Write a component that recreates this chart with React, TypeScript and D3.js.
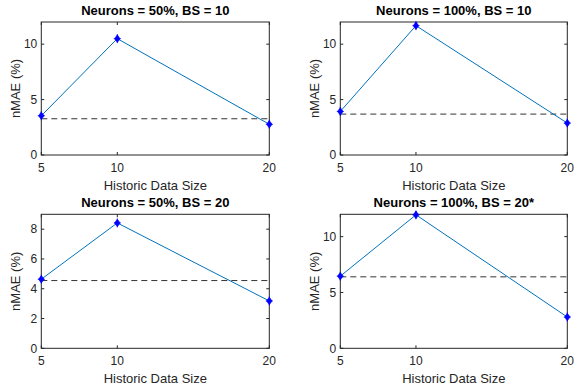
import React, { useRef, useEffect } from "react";
import * as d3 from "d3";

// data
const historicSizes = [5, 10, 20];
const titles = [
  "Neurons = 50%, BS = 10",
  "Neurons = 100%, BS = 10",
  "Neurons = 50%, BS = 20",
  "Neurons = 100%, BS = 20*",
];
const nmae50bs10 = [3.54, 10.5, 2.77];
const nmae100bs10 = [3.93, 11.67, 2.88];
const nmae50bs20 = [4.64, 8.42, 3.18];
const nmae100bs20 = [6.46, 11.95, 2.8];
const baselines = [3.27, 3.69, 4.55, 6.4];
const yMaxes = [12, 12, 9, 12];
const yTickSets = [
  [0, 5, 10],
  [0, 5, 10],
  [0, 2, 4, 6, 8],
  [0, 5, 10],
];
const xTicks = [5, 10, 20];

const W = 574;
const H = 392;
const FONT = "'Liberation Sans', Arial, Helvetica, sans-serif";

function App() {
  const svgRef = useRef<SVGSVGElement>(null);
  useEffect(() => {
    var svg = d3.select(svgRef.current);
    svg.selectChildren().remove();
    svg.append("rect").attr("width", W).attr("height", H).attr("fill", "white");

    const series = [nmae50bs10, nmae100bs10, nmae50bs20, nmae100bs20];
    const lefts = [41.3, 340.3];
    const rights = [269.3, 567.3];
    const tops = [22, 214.3];
    const bottoms = [155, 348.3];

    series.forEach((vals, k) => {
      const col = k % 2;
      const row = Math.floor(k / 2);
      const x0 = lefts[col], x1 = rights[col];
      const y0 = tops[row], y1 = bottoms[row];
      const x = d3.scaleLinear().domain([5, 20]).range([x0, x1]);
      const y = d3.scaleLinear().domain([0, yMaxes[k]]).range([y1, y0]);
      const g = svg.append("g");

      // box
      g.append("rect")
        .attr("x", x0).attr("y", y0)
        .attr("width", x1 - x0).attr("height", y1 - y0)
        .attr("fill", "white").attr("stroke", "#262626").attr("stroke-width", 1);

      // ticks (inward, mirrored)
      const tl = 3;
      yTickSets[k].forEach((t) => {
        const yy = y(t);
        g.append("line").attr("x1", x0).attr("x2", x0 + tl).attr("y1", yy).attr("y2", yy).attr("stroke", "#262626");
        g.append("line").attr("x1", x1).attr("x2", x1 - tl).attr("y1", yy).attr("y2", yy).attr("stroke", "#262626");
        g.append("text")
          .attr("x", x0 - 4).attr("y", yy + 4.3)
          .attr("text-anchor", "end")
          .attr("font-family", FONT).attr("font-size", 12)
          .attr("fill", "#262626")
          .text(t);
      });
      xTicks.forEach((t) => {
        const xx = x(t);
        g.append("line").attr("x1", xx).attr("x2", xx).attr("y1", y1).attr("y2", y1 - tl).attr("stroke", "#262626");
        g.append("line").attr("x1", xx).attr("x2", xx).attr("y1", y0).attr("y2", y0 + tl).attr("stroke", "#262626");
        g.append("text")
          .attr("x", xx).attr("y", y1 + 17)
          .attr("text-anchor", "middle")
          .attr("font-family", FONT).attr("font-size", 12)
          .attr("fill", "#262626")
          .text(t);
      });

      // baseline dashed
      g.append("line")
        .attr("x1", x(5)).attr("x2", x(20))
        .attr("y1", y(baselines[k])).attr("y2", y(baselines[k]))
        .attr("stroke", "#333333").attr("stroke-width", 1)
        .attr("stroke-dasharray", "6,4");

      // series line
      g.append("path")
        .datum(vals)
        .attr("fill", "none")
        .attr("stroke", "#0072BD")
        .attr("stroke-width", 1)
        .attr("d", d3.line<number>().x((d, i) => x(historicSizes[i])).y((d) => y(d)));

      // markers
      vals.forEach((v, i) => {
        const cx = x(historicSizes[i]);
        const cy = y(v);
        g.append("path")
          .attr("d", `M${cx},${cy - 3.8}L${cx + 2.8},${cy}L${cx},${cy + 3.8}L${cx - 2.8},${cy}Z`)
          .attr("fill", "#0000FF")
          .attr("stroke", "#0000FF").attr("stroke-width", 0.6);
        g.append("path")
          .attr("d", `M${cx - 3.5},${cy}L${cx + 3.5},${cy}M${cx},${cy - 4.5}L${cx},${cy + 4.5}`)
          .attr("stroke", "#0000FF").attr("stroke-width", 0.8);
      });

      // labels
      g.append("text")
        .attr("x", (x0 + x1) / 2).attr("y", y0 - 7)
        .attr("text-anchor", "middle")
        .attr("font-family", FONT).attr("font-size", 13).attr("font-weight", "bold")
        .attr("fill", "black")
        .text(titles[k]);
      g.append("text")
        .attr("x", (x0 + x1) / 2).attr("y", y1 + 35)
        .attr("text-anchor", "middle")
        .attr("font-family", FONT).attr("font-size", 13)
        .attr("fill", "#262626")
        .text("Historic Data Size");
      g.append("text")
        .attr("transform", `translate(${x0 - 21},${(y0 + y1) / 2}) rotate(-90)`)
        .attr("text-anchor", "middle")
        .attr("font-family", FONT).attr("font-size", 13)
        .attr("fill", "#262626")
        .text("nMAE (%)");
    });
  }, []);
  return (
    <svg
      ref={svgRef}
      width={W}
      height={H}
      style={{ position: "absolute", left: 0, top: 0, display: "block" }}
    ></svg>
  );
}

export default App;
